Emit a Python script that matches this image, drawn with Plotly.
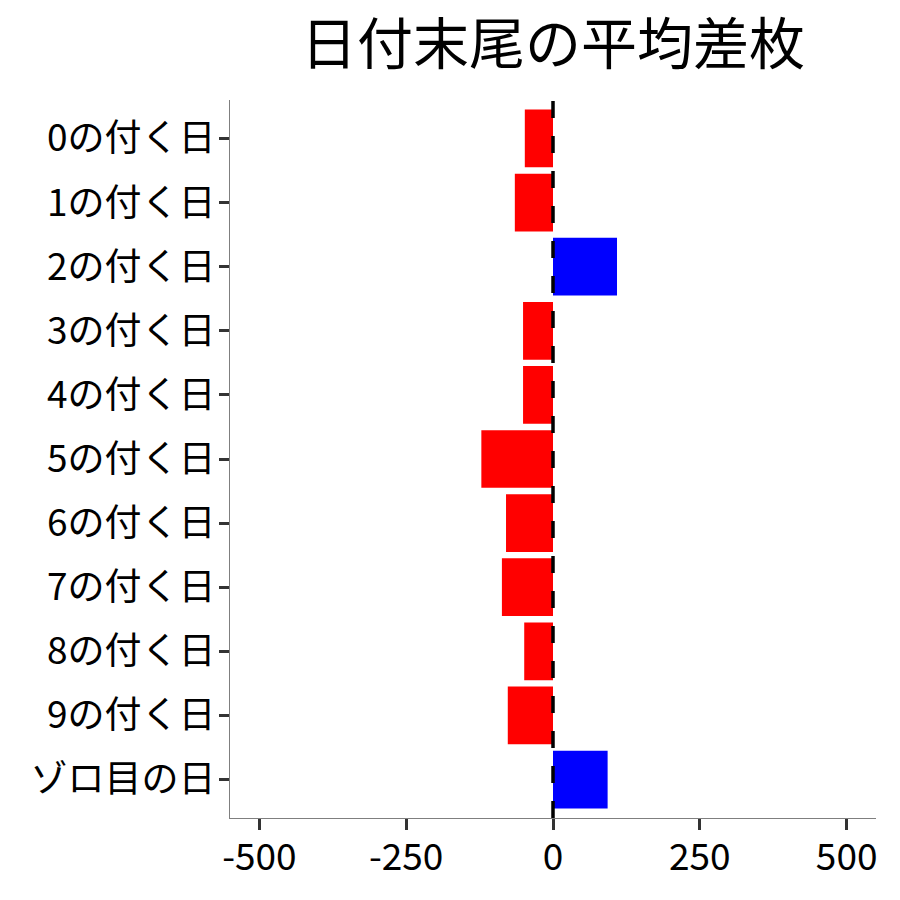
import plotly.graph_objects as go

categories = ["0の付く日", "1の付く日", "2の付く日", "3の付く日", "4の付く日",
              "5の付く日", "6の付く日", "7の付く日", "8の付く日", "9の付く日", "ゾロ目の日"]
values = [-48, -65, 109, -51, -51, -122, -80, -87, -49, -77, 93]
x_ticks = [-500, -250, 0, 250, 500]
x_tick_labels = ["-500", "-250", "0", "250", "500"]
title_text = "日付末尾の平均差枚"

colors = ["#0000FF" if v > 0 else "#FF0000" for v in values]

FONT = "Noto Sans CJK JP"

fig = go.Figure()
fig.add_trace(go.Bar(
    x=values, y=categories, orientation="h",
    marker=dict(color=colors, line=dict(width=0)),
    width=0.9, showlegend=False,
))

fig.add_shape(type="line", xref="x", yref="paper", x0=0, x1=0, y0=0, y1=1,
              line=dict(color="black", width=3.5, dash="17px,18px"), layer="above")

fig.update_layout(
    width=900, height=900,
    margin=dict(l=230, r=24, t=100, b=82),
    paper_bgcolor="white", plot_bgcolor="white",
    font=dict(family=FONT, color="black"),
    title=dict(text=title_text, font=dict(family=FONT, size=56, color="black"),
               x=0.5, xref="paper", xanchor="center",
               y=1 - 44 / 900, yref="container", yanchor="middle"),
    bargap=0.1,
)
fig.update_xaxes(
    range=[-550, 550], tickvals=x_ticks, ticktext=x_tick_labels,
    showgrid=False, zeroline=False,
    showline=True, linecolor="#7f7f7f", linewidth=1.2,
    ticks="outside", ticklen=11, tickwidth=3, tickcolor="#333333",
    tickfont=dict(family=FONT, size=37, color="black"),
    ticklabelstandoff=-5,
)
fig.update_yaxes(
    type="category", categoryorder="array", categoryarray=categories,
    range=[10.6, -0.6],
    showgrid=False, zeroline=False,
    showline=True, linecolor="#7f7f7f", linewidth=1.2,
    ticks="outside", ticklen=10, tickwidth=3, tickcolor="#333333",
    tickfont=dict(family=FONT, size=37, color="black"),
    ticklabelstandoff=-4,
)

fig.write_html("out.html", config={"displayModeBar": False},
               post_script="document.body.style.margin='0';")
